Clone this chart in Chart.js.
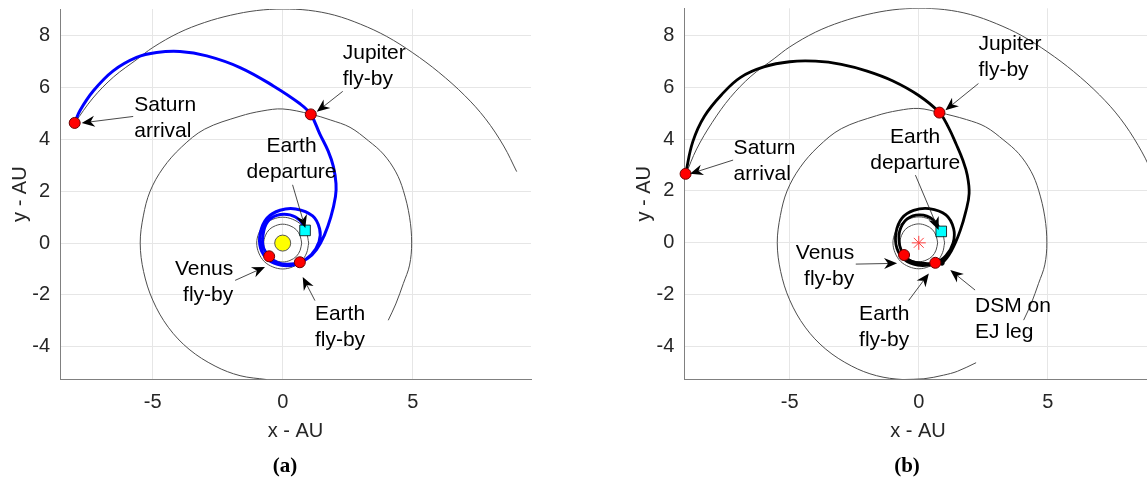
<!DOCTYPE html>
<html>
<head>
<meta charset="utf-8">
<script src="https://cdn.jsdelivr.net/npm/chart.js@4.4.0/dist/chart.umd.min.js"></script>
<style>
  html, body { margin: 0; padding: 0; background: #fff; overflow: hidden; width: 1147px; height: 487px; }
  canvas { position: absolute; top: 0; }
  #chartA { left: 0; }
  #chartB { left: 575px; }
  .cap { position: absolute; top: 453px; width: 60px; text-align: center; line-height: 26px;
         font: bold 21px "Liberation Serif", "Times New Roman", serif; color: #000; }
</style>
</head>
<body>
<canvas id="chartA" width="573" height="487"></canvas>
<canvas id="chartB" width="585" height="487"></canvas>
<div class="cap" style="left:255px">(a)</div>
<div class="cap" style="left:877px">(b)</div>

<script>
// axes
const xTicks = [-5, 0, 5];
const yTicks = [-4, -2, 0, 2, 4, 6, 8];
const xRangeA = [-8.565, 9.55];
const xRangeB = [-9.08, 9.02];
const yRange = [-5.26, 9.04];

// planet orbits (AU)
const earthOrbit = [[1,0],[0.92,0.38],[0.71,0.71],[0.38,0.92],[0,1],[-0.38,0.92],[-0.71,0.71],[-0.92,0.38],[-1,0],
  [-0.92,-0.38],[-0.71,-0.71],[-0.38,-0.92],[0,-1],[0.38,-0.92],[0.71,-0.71],[0.92,-0.38],[1,0]];
const venusOrbit = [[0.73,0],[0.67,0.28],[0.52,0.52],[0.28,0.67],[0,0.73],[-0.28,0.67],[-0.52,0.52],[-0.67,0.28],[-0.73,0],
  [-0.67,-0.28],[-0.52,-0.52],[-0.28,-0.67],[0,-0.73],[0.28,-0.67],[0.52,-0.52],[0.67,-0.28],[0.73,0]];
const jupiterOrbitA = [[-0.62,-5.27],[-1.64,-5.12],[-2.6,-4.75],[-3.6,-4.1],[-4.4,-3.25],[-5.0,-2.2],[-5.35,-1.1],[-5.48,0],
  [-5.36,1.05],[-5.1,2.0],[-4.6,2.9],[-3.9,3.7],[-3.0,4.4],[-1.64,4.9],[-0.8,5.1],[0,5.18],[1.08,4.98],[1.85,4.75],
  [2.59,4.47],[3.3,3.95],[3.87,3.44],[4.35,2.75],[4.64,2.03],[4.88,1.0],[4.96,0],[4.88,-0.85],[4.64,-1.56],[4.35,-2.35],[4.06,-2.98]];
const jupiterOrbitB = [[2.22,-4.62],[1.5,-4.95],[0.96,-5.1],[0.2,-5.24],[-0.62,-5.27],[-1.64,-5.12],[-2.6,-4.75],[-3.6,-4.1],
  [-4.4,-3.25],[-5.0,-2.2],[-5.35,-1.1],[-5.48,0],[-5.36,1.05],[-5.1,2.0],[-4.6,2.9],[-3.9,3.7],[-3.0,4.4],[-1.64,4.9],
  [-0.8,5.1],[0,5.18],[0.8,5.02],[1.85,4.75],[2.59,4.47],[3.3,3.95],[3.87,3.44],[4.35,2.75],[4.64,2.03],[4.88,1.0],
  [4.96,0],[4.88,-0.85],[4.64,-1.56],[4.35,-2.35],[4.06,-2.98]];
const saturnOrbitA = [[-8.0,4.64],[-7.3,5.6],[-6.5,6.42],[-5.6,7.1],[-5.0,7.55],[-4.0,8.12],[-3.0,8.52],[-2.0,8.8],
  [-1.0,8.98],[0,9.04],[1.0,8.99],[2.0,8.8],[3.0,8.45],[4.0,7.98],[5.0,7.35],[6.0,6.6],[7.0,5.7],[7.8,4.8],[8.5,3.75],[9.0,2.76]];
const saturnOrbitB = [[-9.03,2.62],[-8.6,3.62],[-8.0,4.64],[-7.3,5.6],[-6.5,6.42],[-5.6,7.1],[-5.0,7.55],[-4.0,8.12],
  [-3.0,8.52],[-2.0,8.8],[-1.0,8.98],[0,9.04],[1.0,8.99],[2.0,8.8],[3.0,8.45],[4.0,7.98],[5.0,7.35],[6.0,6.6],[7.0,5.7],
  [7.8,4.8],[8.5,3.75],[9.0,2.76],[9.3,1.8],[9.45,0.9]];

// spacecraft trajectories (AU)
const trajectoryA = [[0.86,0.49],[0.67,0.87],[0.28,1.09],[-0.23,1.07],[-0.59,0.81],[-0.75,0.36],[-0.75,-0.15],
  [-0.52,-0.51],[-0.2,-0.75],[0.2,-0.82],[0.66,-0.74],[1.1,-0.45],[1.4,0.05],[1.42,0.55],[1.15,1.05],[0.5,1.32],
  [-0.1,1.27],[-0.6,0.97],[-0.86,0.4],[-0.85,-0.2],[-0.55,-0.65],[-0.05,-0.86],[0.5,-0.83],[0.95,-0.6],[1.3,-0.25],
  [1.6,0.3],[1.85,1.0],[2.03,1.8],[2.05,2.3],[1.95,2.95],[1.75,3.55],[1.43,4.21],[1.08,4.97],[0.68,5.37],[-0.36,6.07],
  [-1.64,6.78],[-2.92,7.23],[-3.95,7.40],[-4.85,7.36],[-5.62,7.17],[-6.52,6.65],[-7.28,5.88],[-7.8,5.11],[-8.0,4.64]];
const trajectoryB = [[0.87,0.44],[0.55,0.9],[0.05,1.08],[-0.45,0.92],[-0.74,0.45],[-0.74,-0.1],[-0.57,-0.47],
  [-0.3,-0.7],[0.13,-0.78],[0.64,-0.77],[1.05,-0.5],[1.33,0.0],[1.35,0.55],[1.05,1.08],[0.4,1.32],[-0.2,1.25],
  [-0.65,0.95],[-0.88,0.4],[-0.85,-0.2],[-0.55,-0.65],[-0.05,-0.86],[0.5,-0.85],[0.9,-0.77],[1.28,-0.28],[1.61,0.49],
  [1.82,1.2],[1.95,1.9],[1.88,2.6],[1.7,3.2],[1.45,3.8],[1.15,4.45],[0.8,5.02],[0.0,5.68],[-1.0,6.24],[-2.0,6.62],
  [-3.0,6.88],[-4.0,7.0],[-5.0,6.98],[-6.0,6.78],[-6.9,6.38],[-7.6,5.75],[-8.3,4.88],[-8.75,3.9],[-9.03,2.66]];

// events
const flybysA = [[-0.52,-0.51],[0.66,-0.74],[1.08,4.97],[-8.0,4.64]];
const flybysB = [[-0.57,-0.47],[0.64,-0.77],[0.8,5.02],[-9.03,2.66]];
const departureA = [[0.86,0.49]];
const departureB = [[0.87,0.44]];
const dsmB = [[0.9,-0.78]];
const sun = [[0,0]];

// labels with arrows (text anchor, arrow start, arrow tip; AU)
const notesA = [
  { lines: ['Saturn', 'arrival'], at: [-5.71, 5.34], align: 'left', from: [-5.75, 4.89], to: [-7.73, 4.64] },
  { lines: ['Jupiter', 'fly-by'], at: [2.31, 7.32], align: 'left', from: [2.31, 5.86], to: [1.31, 5.07] },
  { lines: ['Earth', 'departure'], at: [0.34, 3.74], align: 'center', from: [0.38, 2.25], to: [0.87, 0.58] },
  { lines: ['Venus', 'fly-by'], at: [-1.9, -0.99], align: 'right', from: [-1.83, -1.44], to: [-0.68, -0.92] },
  { lines: ['Earth', 'fly-by'], at: [1.24, -2.75], align: 'left', from: [1.24, -2.22], to: [0.77, -1.31] }
];
const notesB = [
  { lines: ['Saturn', 'arrival'], at: [-7.17, 3.64], align: 'left', from: [-7.19, 3.19], to: [-8.86, 2.66] },
  { lines: ['Jupiter', 'fly-by'], at: [2.31, 7.65], align: 'left', from: [2.31, 6.14], to: [1.03, 5.11] },
  { lines: ['Earth', 'departure'], at: [-0.14, 4.08], align: 'center', from: [-0.13, 2.61], to: [0.77, 0.49] },
  { lines: ['Venus', 'fly-by'], at: [-2.5, -0.39], align: 'right', from: [-2.44, -0.82], to: [-0.84, -0.79] },
  { lines: ['Earth', 'fly-by'], at: [-2.31, -2.75], align: 'left', from: [-0.39, -2.22], to: [0.39, -1.18] },
  { lines: ['DSM on', 'EJ leg'], at: [2.18, -2.44], align: 'left', from: [2.18, -1.82], to: [1.22, -1.05] }
];

const pts = a => a.map(([x, y]) => ({ x, y }));

function drawArrow(ctx, x1, y1, x2, y2) {
  const len = Math.hypot(x2 - x1, y2 - y1);
  const ux = (x2 - x1) / len, uy = (y2 - y1) / len;
  const L = 13, W = 5.5, notch = 9;
  ctx.beginPath();
  ctx.moveTo(x1, y1);
  ctx.lineTo(x2 - ux * notch, y2 - uy * notch);
  ctx.stroke();
  ctx.beginPath();
  ctx.moveTo(x2, y2);
  ctx.lineTo(x2 - ux * L - uy * W, y2 - uy * L + ux * W);
  ctx.lineTo(x2 - ux * notch, y2 - uy * notch);
  ctx.lineTo(x2 - ux * L + uy * W, y2 - uy * L - ux * W);
  ctx.closePath();
  ctx.fill();
}

const notesPlugin = {
  id: 'notes',
  afterDatasetsDraw(chart, args, opts) {
    const { ctx, scales: { x, y } } = chart;
    ctx.save();
    ctx.font = '21px "Liberation Sans", Arial, sans-serif';
    ctx.fillStyle = '#000';
    ctx.strokeStyle = '#1a1a1a';
    ctx.lineWidth = 0.8;
    ctx.textBaseline = 'middle';
    opts.items.forEach(n => {
      ctx.textAlign = n.align;
      const px = x.getPixelForValue(n.at[0]), py = y.getPixelForValue(n.at[1]);
      n.lines.forEach((t, i) => ctx.fillText(t, px, py + i * 26));
      drawArrow(ctx, x.getPixelForValue(n.from[0]), y.getPixelForValue(n.from[1]),
                x.getPixelForValue(n.to[0]), y.getPixelForValue(n.to[1]));
    });
    ctx.restore();
  }
};

const tickFont = { family: '"Liberation Sans", Arial, sans-serif', size: 20 };

function orbitSet(data) {
  return { data: pts(data), showLine: true, tension: 0.35, borderColor: '#4d4d4d', borderWidth: 1, pointRadius: 0 };
}

function makeChart(id, p) {
  const datasets = [
    { data: pts(p.flybys), pointRadius: 5.5, pointBackgroundColor: '#ff0000', pointBorderColor: '#6b0000', pointBorderWidth: 1, clip: false },
    { data: pts(p.departure), pointStyle: 'rect', pointRadius: 7.5, pointBackgroundColor: '#00ffff', pointBorderColor: '#000', pointBorderWidth: 0.8, clip: false },
    p.sunStyle,
    { data: pts(p.trajectory), showLine: true, tension: 0.4, borderColor: p.color, borderWidth: p.width, pointRadius: 0 },
    orbitSet(earthOrbit),
    orbitSet(venusOrbit),
    orbitSet(p.jupiter),
    orbitSet(p.saturn)
  ];
  if (p.dsm) datasets.splice(1, 0, { data: pts(p.dsm), pointRadius: 2.2, pointBackgroundColor: '#000', pointBorderColor: '#000', clip: false });

  return new Chart(document.getElementById(id), {
    type: 'scatter',
    data: { datasets },
    options: {
      responsive: false,
      animation: false,
      events: [],
      layout: { padding: p.padding },
      plugins: { legend: { display: false }, tooltip: { enabled: false }, notes: { items: p.notes } },
      scales: {
        x: {
          type: 'linear', min: p.xRange[0], max: p.xRange[1],
          afterBuildTicks: s => { s.ticks = xTicks.map(v => ({ value: v })); },
          afterFit: s => { s.height = 74.1; s.paddingLeft = 0; s.paddingRight = 0; },
          grid: { color: '#e6e6e6', lineWidth: 1, drawTicks: false },
          border: { color: '#808080', width: 1 },
          ticks: { font: tickFont, color: '#262626', padding: 11, maxRotation: 0 },
          title: { display: true, text: 'x - AU', font: tickFont, color: '#262626', padding: { top: 0, bottom: 10.4 } }
        },
        y: {
          type: 'linear', min: yRange[0], max: yRange[1],
          afterBuildTicks: s => { s.ticks = yTicks.map(v => ({ value: v })); },
          afterFit: s => { s.width = 60; s.paddingTop = 0; s.paddingBottom = 0; },
          grid: { color: '#e6e6e6', lineWidth: 1, drawTicks: false },
          border: { color: '#808080', width: 1 },
          ticks: { font: tickFont, color: '#262626', padding: 10 },
          title: { display: true, text: 'y - AU', font: tickFont, color: '#262626', padding: { top: 8, bottom: 0 } }
        }
      }
    },
    plugins: [notesPlugin]
  });
}

makeChart('chartA', {
  xRange: xRangeA, padding: { left: 0, right: 42, top: 8, bottom: 33.6 },
  flybys: flybysA, departure: departureA, trajectory: trajectoryA, color: '#0000ff', width: 3,
  jupiter: jupiterOrbitA, saturn: saturnOrbitA, notes: notesA,
  sunStyle: { data: pts(sun), pointRadius: 8, pointBackgroundColor: '#ffff00', pointBorderColor: '#555', pointBorderWidth: 1 }
});

makeChart('chartB', {
  xRange: xRangeB, padding: { left: 49.3, right: 6, top: 8, bottom: 33.6 },
  flybys: flybysB, departure: departureB, trajectory: trajectoryB, color: '#000000', width: 2.8, dsm: dsmB,
  jupiter: jupiterOrbitB, saturn: saturnOrbitB, notes: notesB,
  sunStyle: { data: pts(sun), pointStyle: 'star', pointRadius: 7, pointBackgroundColor: '#ff4040', pointBorderColor: '#ff4040', pointBorderWidth: 1 }
});
</script>
</body>
</html>
